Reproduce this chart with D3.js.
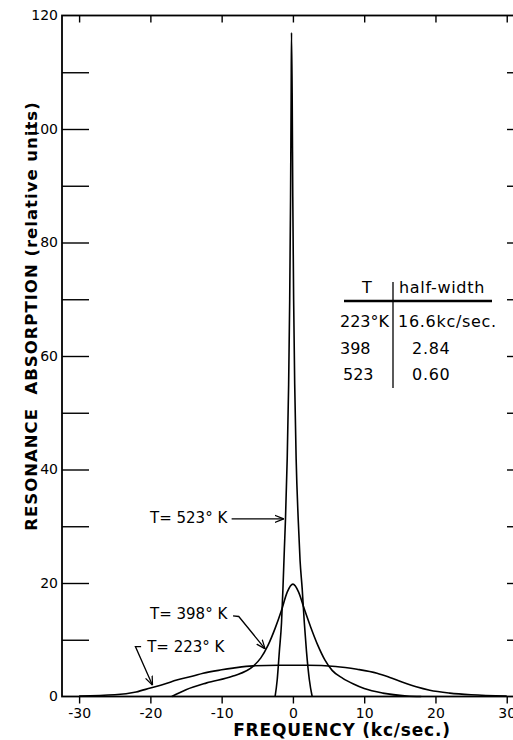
<!DOCTYPE html>
<html>
<head>
<meta charset="utf-8">
<script src="https://cdn.jsdelivr.net/npm/d3@7"></script>
<style>
  body { margin: 0; background: #fff; }
  text { font-family: "DejaVu Sans", sans-serif; fill: #000; }
</style>
</head>
<body>
<div id="chart"></div>
<script>
// curves: frequency (kc/sec) and absorption (relative units)
var freq223 = [-30, -25, -22, -20, -18, -16.3, -14, -12.6, -10, -8.4, -5.6, -2, 2, 6, 9, 11.8, 13.5, 15.4, 17.3, 19.2, 22, 25, 30];
var abs223  = [0.1, 0.3, 0.8, 1.5, 2.2, 2.9, 3.6, 4.1, 4.7, 5.0, 5.4, 5.5, 5.5, 5.3, 4.8, 4.1, 3.4, 2.5, 1.7, 1.1, 0.6, 0.3, 0.1];

var freq398 = [-17, -15, -12.1, -8.4, -5.6, -4.5, -3.5, -2.5, -1.6, -0.8, 0, 0.8, 1.6, 2.5, 3.5, 4.5, 5.5, 7, 8.5, 10, 12.6, 16, 18];
var abs398  = [0, 1.2, 2.4, 3.6, 5.3, 6.8, 9.0, 12.0, 15.2, 18.4, 19.8, 18.4, 15.4, 12.2, 9.0, 6.4, 4.6, 3.2, 2.2, 1.4, 0.6, 0.1, 0];

var freq523 = [-2.5, -2.2, -1.9, -1.6, -1.4, -1.2, -1.05, -0.8, -0.6, -0.45, -0.33, -0.25, -0.2, -0.1, -0.02, 0.1, 0.25, 0.45, 0.75, 1.0, 1.3, 1.6, 1.9, 2.3, 2.7];
var abs523  = [0, 3, 8, 13, 19, 26, 31, 42, 55, 70, 88, 105, 117, 105, 88, 70, 55, 42, 31, 24, 19, 13, 8, 3, 0];

var xTickLabels = [-30, -20, -10, 0, 10, 20, 30];
var yTickLabels = [0, 20, 40, 60, 80, 100, 120];
var yMinorTicks = [10, 20, 30, 40, 50, 60, 70, 80, 90, 100, 110];

var tableT  = ["223°K", "398", "523"];
var tableHW = ["16.6kc/sec.", "2.84", "0.60"];

var width = 513,
    height = 740;

var x = d3.scaleLinear().domain([-32.4, 31.3]).range([62, 516]);
var y = d3.scaleLinear().domain([0, 120]).range([696.5, 15.5]);

var svg = d3.select('#chart').append('svg')
    .attr('width', width)
    .attr('height', height);

// frame
svg.append('rect')
    .attr('x', x(-32.4))
    .attr('y', y(120))
    .attr('width', x(31.3) - x(-32.4))
    .attr('height', y(0) - y(120))
    .attr('fill', 'none')
    .attr('stroke', '#000')
    .attr('stroke-width', 1.8);

function styleAxis(g) {
    g.select('.domain').remove();
    g.selectAll('line').attr('stroke', '#000').attr('stroke-width', 1.4);
    g.selectAll('text').attr('font-family', '"DejaVu Sans", sans-serif').attr('font-size', 14);
}

// inward ticks on the left, labels outside
svg.append('g')
    .attr('transform', 'translate(' + x(-32.4) + ',0)')
    .call(d3.axisRight(y).tickValues(yMinorTicks).tickSize(27).tickFormat(''))
    .call(styleAxis);

svg.append('g')
    .attr('transform', 'translate(' + x(-32.4) + ',0)')
    .call(d3.axisLeft(y).tickValues(yTickLabels).tickSize(0).tickPadding(4))
    .call(styleAxis);

// short ticks on the right
svg.append('g')
    .attr('transform', 'translate(' + x(31.3) + ',0)')
    .call(d3.axisLeft(y).tickValues(yMinorTicks).tickSize(9).tickFormat(''))
    .call(styleAxis);

// top ticks pointing down
svg.append('g')
    .attr('transform', 'translate(0,' + y(120) + ')')
    .call(d3.axisBottom(x).tickValues(xTickLabels).tickSize(7).tickFormat(''))
    .call(styleAxis);

// bottom ticks pointing down with labels
svg.append('g')
    .attr('transform', 'translate(0,' + y(0) + ')')
    .call(d3.axisBottom(x).tickValues(xTickLabels).tickSize(7).tickPadding(5)
        .tickFormat(function (d) { return d < 0 ? '-' + Math.abs(d) : d; }))
    .call(styleAxis);

// curves
var line = d3.line()
    .x(function (d) { return x(d[0]); })
    .y(function (d) { return y(d[1]); })
    .curve(d3.curveMonotoneX);

[[freq223, abs223], [freq398, abs398], [freq523, abs523]].forEach(function (s) {
    svg.append('path')
        .datum(d3.zip(s[0], s[1]))
        .attr('d', line)
        .attr('fill', 'none')
        .attr('stroke', '#000')
        .attr('stroke-width', 1.6);
});

// arrow head
svg.append('defs').append('marker')
    .attr('id', 'arrow')
    .attr('viewBox', '0 0 10 10')
    .attr('refX', 10)
    .attr('refY', 5)
    .attr('markerWidth', 9)
    .attr('markerHeight', 9)
    .attr('markerUnits', 'userSpaceOnUse')
    .attr('orient', 'auto')
    .append('path')
    .attr('d', 'M0,1 L10,5 L0,9')
    .attr('fill', 'none')
    .attr('stroke', '#000')
    .attr('stroke-width', 1.4);

var labels = [
    { text: 'T= 523° K', at: [-20.05, 30.6], path: [[-8.6, 31.3], [-1.3, 31.3]] },
    { text: 'T= 398° K', at: [-20.05, 13.7], path: [[-8.4, 14.2], [-7.6, 14.1], [-3.9, 8.4]] },
    { text: 'T= 223° K', at: [-20.45, 7.8], path: [[-21.3, 8.8], [-22.1, 8.8], [-19.7, 2.0]] }
];

var arrowLine = d3.line()
    .x(function (d) { return x(d[0]); })
    .y(function (d) { return y(d[1]); });

labels.forEach(function (l) {
    svg.append('text')
        .attr('x', x(l.at[0]))
        .attr('y', y(l.at[1]))
        .attr('font-size', 15)
        .text(l.text);
    svg.append('path')
        .attr('d', arrowLine(l.path))
        .attr('fill', 'none')
        .attr('stroke', '#000')
        .attr('stroke-width', 1.3)
        .attr('marker-end', 'url(#arrow)');
});

// half-width table
var table = svg.append('g');

table.append('text').attr('x', 367).attr('y', 293).attr('font-size', 16)
    .attr('text-anchor', 'middle').text('T');
table.append('text').attr('x', 399).attr('y', 293).attr('font-size', 16)
    .attr('letter-spacing', 0.7)
    .text('half-width');
table.append('line')
    .attr('x1', 344).attr('x2', 492).attr('y1', 301).attr('y2', 301)
    .attr('stroke', '#000').attr('stroke-width', 2.4);
table.append('line')
    .attr('x1', 393).attr('x2', 393).attr('y1', 282).attr('y2', 388)
    .attr('stroke', '#000').attr('stroke-width', 1.3);

tableT.forEach(function (t, i) {
    table.append('text')
        .attr('x', 340 + (i == 2 ? 3 : 0))
        .attr('y', 327 + i * 26.5)
        .attr('font-size', 16)
        .text(t);
    table.append('text')
        .attr('x', i == 0 ? 398 : 412)
        .attr('y', 327 + i * 26.5)
        .attr('font-size', 16)
        .attr('letter-spacing', 0.7)
        .text(tableHW[i]);
});

// axis titles
svg.append('text')
    .attr('x', 342)
    .attr('y', 736)
    .attr('text-anchor', 'middle')
    .attr('font-size', 17)
    .attr('font-weight', 'bold')
    .attr('letter-spacing', 0.8)
    .text('FREQUENCY (kc/sec.)');

svg.append('text')
    .attr('transform', 'translate(37,316) rotate(-90)')
    .attr('text-anchor', 'middle')
    .attr('font-size', 16.5)
    .attr('font-weight', 'bold')
    .attr('letter-spacing', 1)
    .attr('xml:space', 'preserve')
    .style('white-space', 'pre')
    .text('RESONANCE  ABSORPTION (relative units)');
</script>
</body>
</html>
